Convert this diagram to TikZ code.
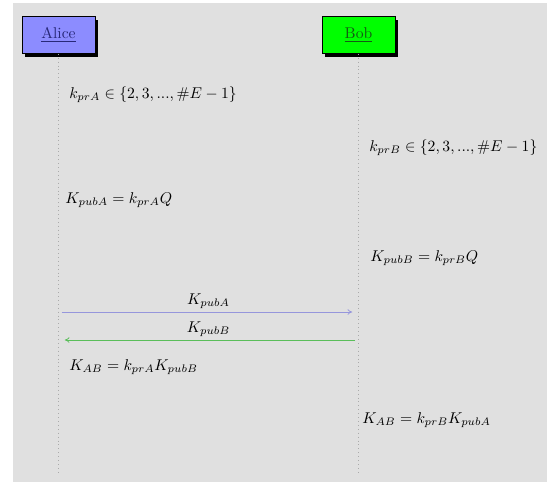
\documentclass[tikz,border=0pt]{standalone}
\usetikzlibrary{shadows,arrows.meta}
\definecolor{bgray}{RGB}{224,224,224}
\definecolor{alicefill}{RGB}{140,140,255}
\definecolor{bobfill}{RGB}{0,255,0}
\definecolor{alicetext}{RGB}{40,40,120}
\definecolor{bobtext}{RGB}{20,90,20}
\definecolor{msgA}{RGB}{150,150,220}
\definecolor{msgB}{RGB}{90,190,90}
\definecolor{lifegray}{RGB}{170,170,170}
\tikzset{
  actor/.style={draw=black, line width=0.4pt, minimum width=46.7pt, minimum height=23.7pt,
    drop shadow={shadow xshift=2pt, shadow yshift=-2pt, fill=black, opacity=1}},
  lifeline/.style={draw=lifegray, dotted, line width=0.5pt},
  eq/.style={anchor=west, inner sep=0pt},
  msg/.style={line width=0.5pt, -{To[length=3pt,width=3.5pt]}, shorten <=2pt, shorten >=4pt},
  msglabel/.style={anchor=south, inner sep=2pt}
}
\begin{document}
\begin{tikzpicture}[x=0.64pt, y=-0.64pt]
\useasboundingbox (0,0) rectangle (547,482);
\fill[bgray] (13,3) rectangle (547,482);
\node[actor, fill=alicefill] (alice) at (58.5,35) {\textcolor{alicetext}{\underline{Alice}}};
\node[actor, fill=bobfill] (bob) at (358.5,35) {\textcolor{bobtext}{\underline{Bob}}};
\coordinate (aend) at (58.5,474);
\coordinate (bend) at (358.5,474);
\draw[lifeline] (alice.south) -- (aend);
\draw[lifeline] (bob.south) -- (bend);
\node[eq] (e1) at (69,95) {$k_{prA}\in\{2,3,...,\#E-1\}$};
\node[eq] (e2) at (369,148) {$k_{prB}\in\{2,3,...,\#E-1\}$};
\node[eq] (e3) at (65,200) {$K_{pubA}=k_{prA}Q$};
\node[eq] (e4) at (370,258) {$K_{pubB}=k_{prB}Q$};
\coordinate (a1) at (58.5,312);
\coordinate (b1) at (358.5,312);
\coordinate (a2) at (58.5,340);
\coordinate (b2) at (358.5,340);
\draw[msg, draw=msgA] (a1) -- node[msglabel] (l1) {$K_{pubA}$} (b1);
\draw[msg, draw=msgB] (b2) -- node[msglabel] (l2) {$K_{pubB}$} (a2);
\node[eq] (e5) at (69,367) {$K_{AB}=k_{prA}K_{pubB}$};
\node[eq] (e6) at (362,420) {$K_{AB}=k_{prB}K_{pubA}$};
\end{tikzpicture}
\end{document}
